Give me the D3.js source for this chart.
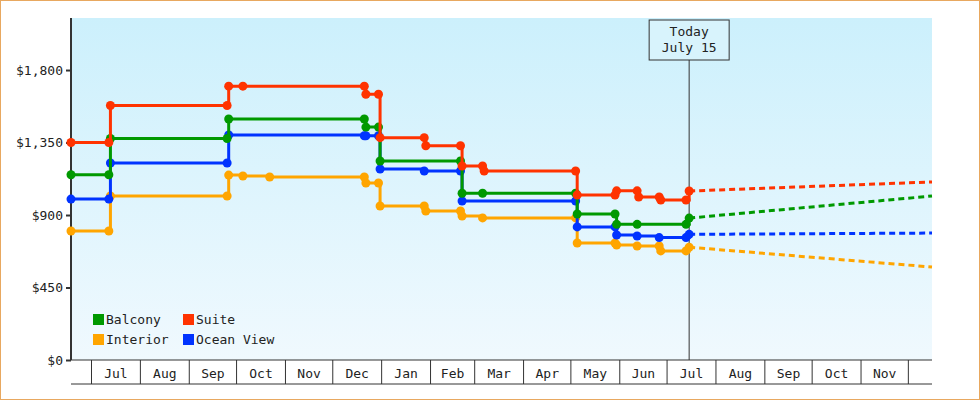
<!DOCTYPE html>
<html>
<head>
<meta charset="utf-8">
<script src="https://cdn.jsdelivr.net/npm/d3@7"></script>
<style>
  body { margin: 0; background: #fff; }
  svg { font-family: "DejaVu Sans Mono", monospace; }
</style>
</head>
<body>
<svg id="chart" width="980" height="400"></svg>
<script>
const seriesNames = ["Balcony", "Suite", "Interior", "Ocean View"]
const seriesColors = ["#009900", "#ff3300", "#ffa500", "#0033ff"]

const suite = [["2024-06-18",1350],["2024-07-12",1350],["2024-07-13",1580],["2024-09-25",1580],["2024-09-26",1700],["2024-10-05",1700],["2024-12-21",1700],["2024-12-22",1650],["2024-12-30",1650],["2024-12-31",1380],["2025-01-28",1380],["2025-01-29",1330],["2025-02-20",1330],["2025-02-21",1204],["2025-03-06",1204],["2025-03-07",1173],["2025-05-04",1173],["2025-05-05",1024],["2025-05-29",1024],["2025-05-30",1050],["2025-06-12",1050],["2025-06-13",1012],["2025-06-26",1012],["2025-06-27",993],["2025-07-13",993],["2025-07-15",1049]]
const balcony = [["2024-06-18",1150],["2024-07-12",1150],["2024-07-13",1375],["2024-09-25",1375],["2024-09-26",1496],["2024-12-21",1496],["2024-12-22",1446],["2024-12-30",1446],["2024-12-31",1235],["2025-02-20",1235],["2025-02-21",1035],["2025-03-06",1035],["2025-05-04",1035],["2025-05-05",906],["2025-05-29",906],["2025-05-30",842],["2025-06-12",842],["2025-07-13",842],["2025-07-15",881]]
const interior = [["2024-06-18",801],["2024-07-12",801],["2024-07-13",1018],["2024-09-25",1018],["2024-09-26",1148],["2024-10-05",1142],["2024-10-22",1136],["2024-12-21",1136],["2024-12-22",1099],["2024-12-30",1099],["2024-12-31",956],["2025-01-28",956],["2025-01-29",925],["2025-02-20",925],["2025-02-21",894],["2025-03-06",882],["2025-05-04",882],["2025-05-05",726],["2025-05-29",726],["2025-05-30",714],["2025-06-12",708],["2025-06-26",708],["2025-06-27",677],["2025-07-13",677],["2025-07-15",700]]
const oceanView = [["2024-06-18",999],["2024-07-12",999],["2024-07-13",1223],["2024-09-25",1223],["2024-09-26",1397],["2024-12-21",1392],["2024-12-22",1392],["2024-12-30",1392],["2024-12-31",1186],["2025-01-28",1173],["2025-02-20",1173],["2025-02-21",987],["2025-05-04",987],["2025-05-05",826],["2025-05-29",826],["2025-05-30",776],["2025-06-12",770],["2025-06-26",760],["2025-07-13",760],["2025-07-15",780]]
const seriesData = [balcony, suite, interior, oceanView]

const forecastEnd = "2025-12-16"
const forecastValues = [1018, 1105, 577, 788]

const yTicks = [0, 450, 900, 1350, 1800]
const todayDate = "2025-07-15"
const todayLabel = ["Today", "July 15"]

const parse = d3.timeParse("%Y-%m-%d")
const svg = d3.select("#chart")
const margin = { left: 71, right: 932, top: 18, bottom: 360 }

const x = d3.scaleTime().domain([parse("2024-06-18"), parse(forecastEnd)]).range([margin.left, margin.right])
const y = d3.scaleLinear().domain([0, 2123]).range([margin.bottom, margin.top])

svg.append("rect").attr("x", 0.5).attr("y", 0.5).attr("width", 979).attr("height", 399)
  .attr("fill", "#fff").attr("stroke", "#e8a860")

const defs = svg.append("defs")
const grad = defs.append("linearGradient").attr("id", "bg").attr("x1", 0).attr("y1", 0).attr("x2", 0).attr("y2", 1)
grad.append("stop").attr("offset", "0%").attr("stop-color", "#ccf0fc")
grad.append("stop").attr("offset", "100%").attr("stop-color", "#f0f9fe")
svg.append("rect").attr("x", margin.left).attr("y", margin.top)
  .attr("width", margin.right - margin.left).attr("height", margin.bottom - margin.top).attr("fill", "url(#bg)")

// y axis
const yAxis = svg.append("g").attr("transform", `translate(${margin.left},0)`)
  .call(d3.axisLeft(y).tickValues(yTicks).tickSize(5).tickFormat(d => "$" + d3.format(",")(d)))
yAxis.select(".domain").remove()
yAxis.selectAll("line").attr("stroke", "#333").attr("stroke-width", 2)
yAxis.selectAll("text").attr("font-size", 13).attr("fill", "#222").attr("font-family", "DejaVu Sans Mono")
svg.append("line").attr("x1", margin.left).attr("x2", margin.left).attr("y1", margin.top).attr("y2", margin.bottom)
  .attr("stroke", "#333").attr("stroke-width", 2)

// x axis month boxes
const months = x.ticks(d3.timeMonth.every(1)).filter(d => d > x.domain()[0])
const xa = svg.append("g")
xa.append("line").attr("x1", margin.left).attr("x2", margin.right).attr("y1", 384).attr("y2", 384).attr("stroke", "#333")
xa.append("line").attr("x1", margin.left).attr("x2", margin.right).attr("y1", margin.bottom).attr("y2", margin.bottom).attr("stroke", "#333")
months.forEach(m => {
  xa.append("line").attr("x1", x(m)).attr("x2", x(m)).attr("y1", margin.bottom).attr("y2", 384).attr("stroke", "#333")
  const next = d3.timeMonth.offset(m, 1)
  if (next <= x.domain()[1]) {
    xa.append("text").attr("x", (x(m) + x(next)) / 2).attr("y", 378).attr("text-anchor", "middle")
      .attr("font-size", 13).attr("fill", "#222").text(d3.timeFormat("%b")(m))
  }
})

// today marker
const tx = x(parse(todayDate))
svg.append("line").attr("x1", tx).attr("x2", tx).attr("y1", 60).attr("y2", margin.bottom).attr("stroke", "#333")
svg.append("rect").attr("x", tx - 40).attr("y", 20).attr("width", 80).attr("height", 40)
  .attr("fill", "#d8f3fc").attr("stroke", "#333")
todayLabel.forEach((t, i) => svg.append("text").attr("x", tx).attr("y", 36 + i * 16)
  .attr("text-anchor", "middle").attr("font-size", 13).attr("fill", "#222").text(t))

// series
const line = d3.line().x(d => x(parse(d[0]))).y(d => y(d[1])).curve(d3.curveStepAfter)
seriesData.forEach((s, i) => {
  const last = s[s.length - 1]
  svg.append("path").datum([last, [forecastEnd, forecastValues[i]]])
    .attr("d", d3.line().x(d => x(parse(d[0]))).y(d => y(d[1])))
    .attr("fill", "none").attr("stroke", seriesColors[i]).attr("stroke-width", 3).attr("stroke-dasharray", "6,4")
})
const order = [2, 3, 0, 1]
order.forEach(i => {
  const s = seriesData[i]
  svg.append("path").datum(s).attr("d", line).attr("fill", "none")
    .attr("stroke", seriesColors[i]).attr("stroke-width", 3)
  svg.selectAll(null).data(s).enter().append("circle")
    .attr("cx", d => x(parse(d[0]))).attr("cy", d => y(d[1])).attr("r", 4.5)
    .attr("fill", seriesColors[i])
})

// legend
const legend = svg.append("g").attr("transform", "translate(93,314)")
seriesNames.forEach((n, i) => {
  const g = legend.append("g").attr("transform", `translate(${(i % 2) * 90},${Math.floor(i / 2) * 20})`)
  g.append("rect").attr("width", 11).attr("height", 11).attr("fill", seriesColors[i])
  g.append("text").attr("x", 13).attr("y", 10).attr("font-size", 13).attr("fill", "#222").text(n)
})
</script>
</body>
</html>
